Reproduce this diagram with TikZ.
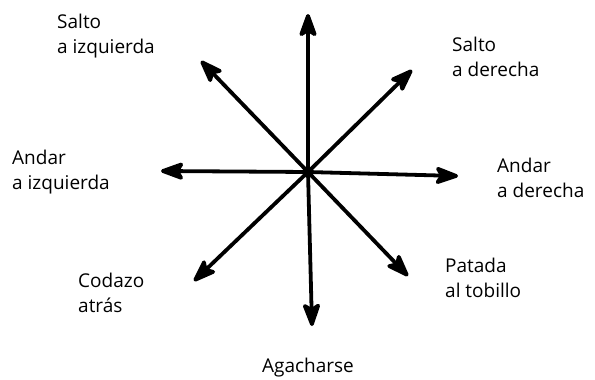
\documentclass[tikz,border=0pt]{standalone}
\usepackage{fontspec}
\setmainfont{Open Sans}
\usetikzlibrary{arrows.meta}
\begin{document}
\begin{tikzpicture}[x=1pt,y=-1pt,
  arr/.style={line width=3.8pt,-{Stealth[length=28pt,width=20pt,inset=6pt,round]}},
  lab/.style={align=left,font=\fontsize{19}{25}\selectfont,inner sep=0pt,anchor=base west}]
\useasboundingbox (0,0) rectangle (595,380);
\coordinate (c) at (308,172);
\fill (c) circle (5.5);
\coordinate (n) at (308,14);
\coordinate (s) at (312,326);
\coordinate (w) at (161,171);
\coordinate (e) at (458,176);
\coordinate (nw) at (201,61);
\coordinate (ne) at (412,70);
\coordinate (sw) at (194,281);
\coordinate (se) at (408,276);
\foreach \t in {n,s,w,e,nw,ne,sw,se} \draw[arr] (c) -- (\t);
\node[lab] (l1) at (57,53) {Salto\\a izquierda};
\node[lab] (l2) at (452,76) {Salto\\a derecha};
\node[lab] (l3) at (12,189) {Andar\\a izquierda};
\node[lab] (l4) at (497,197) {Andar\\a derecha};
\node[lab] (l5) at (78,312) {Codazo\\atrás};
\node[lab] (l6) at (445,297) {Patada\\al tobillo};
\node[lab,anchor=base] (l7) at (308,372) {Agacharse};
\end{tikzpicture}
\end{document}
